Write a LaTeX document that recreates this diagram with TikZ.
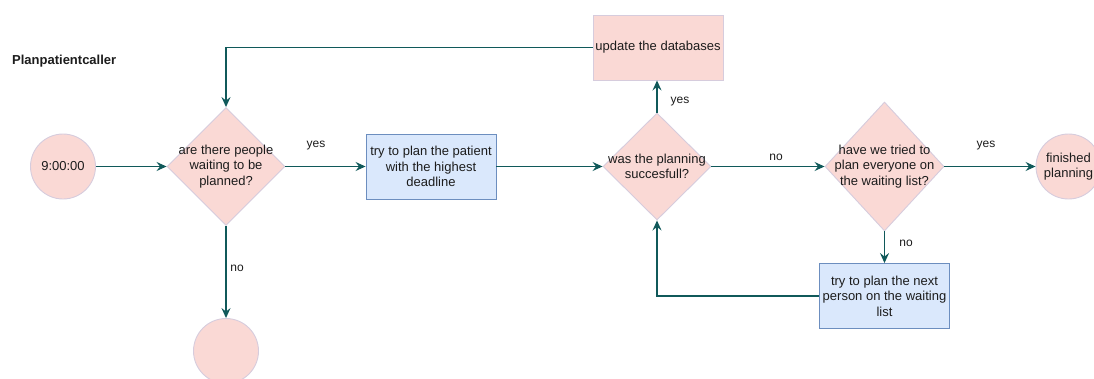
\documentclass[tikz,border=0pt]{standalone}
\usepackage{fontspec}
\setmainfont{Liberation Sans}
\usetikzlibrary{shapes.geometric,arrows.meta}

\definecolor{pinkfill}{HTML}{FAD9D5}
\definecolor{pinkline}{HTML}{D6CCDD}
\definecolor{bluefill}{HTML}{DAE8FC}
\definecolor{blueline}{HTML}{6C8EBF}
\definecolor{flow}{HTML}{10595A}
\definecolor{ink}{HTML}{1C1C1C}

\tikzset{
  txt/.style={font=\fontsize{13}{15.4}\selectfont, text=ink, align=center, inner sep=0pt},
  lbl/.style={font=\fontsize{12}{14}\selectfont, text=ink, inner sep=0pt},
  terminal/.style={circle, draw=pinkline, fill=pinkfill, line width=0.9pt, minimum size=65pt, inner sep=0pt, txt},
  decision/.style={diamond, draw=pinkline, fill=pinkfill, line width=0.9pt, inner sep=0pt, aspect=1},
  action/.style={rectangle, draw=blueline, fill=bluefill, line width=0.9pt, minimum width=130pt, minimum height=65pt, txt},
  update/.style={rectangle, draw=pinkline, fill=pinkfill, line width=0.9pt, minimum width=130pt, minimum height=65pt, txt},
  flowline/.style={draw=flow, line width=1.3pt, -{Stealth[length=10pt,width=9pt,inset=3.5pt]}},
}

\begin{document}
\begin{tikzpicture}[x=1pt, y=-1pt]
  \useasboundingbox (0,0) rectangle (1094,378);

  % title
  \node[font=\bfseries\fontsize{13}{15.5}\selectfont, text=ink, anchor=west, inner sep=0pt] (title) at (12,61) {Planpatientcaller};

  % start / end points
  \node[terminal] (start) at (63,166.5) {9:00:00};
  \node[terminal] (stop) at (226,351) {};
  \node[terminal] (done) at (1068.5,166.5) {finished\\planning};

  % decisions
  \node[decision, minimum width=118pt, minimum height=118pt] (q1) at (226,166.5) {};
  \node[txt] (q1t) at (q1) {are there people\\waiting to be\\planned?};

  \node[decision, minimum width=108pt, minimum height=107pt] (q2) at (657,166.5) {};
  \node[txt] (q2t) at (q2) {was the planning\\succesfull?};

  \node[decision, minimum width=119pt, minimum height=129pt] (q3) at (884.5,166.5) {};
  \node[txt] (q3t) at (q3) {have we tried to\\plan everyone on\\the waiting list?};

  % actions
  \node[action] (plan) at (431,166.5) {try to plan the patient\\with the highest\\deadline};
  \node[update] (db) at (658,47.5) {update the databases};
  \node[action] (next) at (884.5,296) {try to plan the next\\person on the waiting\\list};

  % connectors
  \draw[flowline] (start.east) -- (q1.west);
  \draw[flowline] (q1.east) -- (plan.west);
  \draw[flowline] (q1.south) -- (stop.north);
  \draw[flowline] (plan.east) -- (q2.west);
  \draw[flowline] (q2.north) -- (q2.north |- db.south);
  \draw[flowline] (db.west) -| (q1.north);
  \draw[flowline] (q2.east) -- (q3.west);
  \draw[flowline] (q3.east) -- (done.west);
  \draw[flowline] (q3.south) -- (q3.south |- next.north);
  \draw[flowline] (next.west) -| (q2.south);

  % branch labels
  \node[lbl] (l1) at (316,146) {yes};
  \node[lbl] (l2) at (237,268) {no};
  \node[lbl] (l3) at (680,102) {yes};
  \node[lbl] (l4) at (776,157) {no};
  \node[lbl] (l5) at (986,146) {yes};
  \node[lbl] (l6) at (906,243) {no};
\end{tikzpicture}
\end{document}
